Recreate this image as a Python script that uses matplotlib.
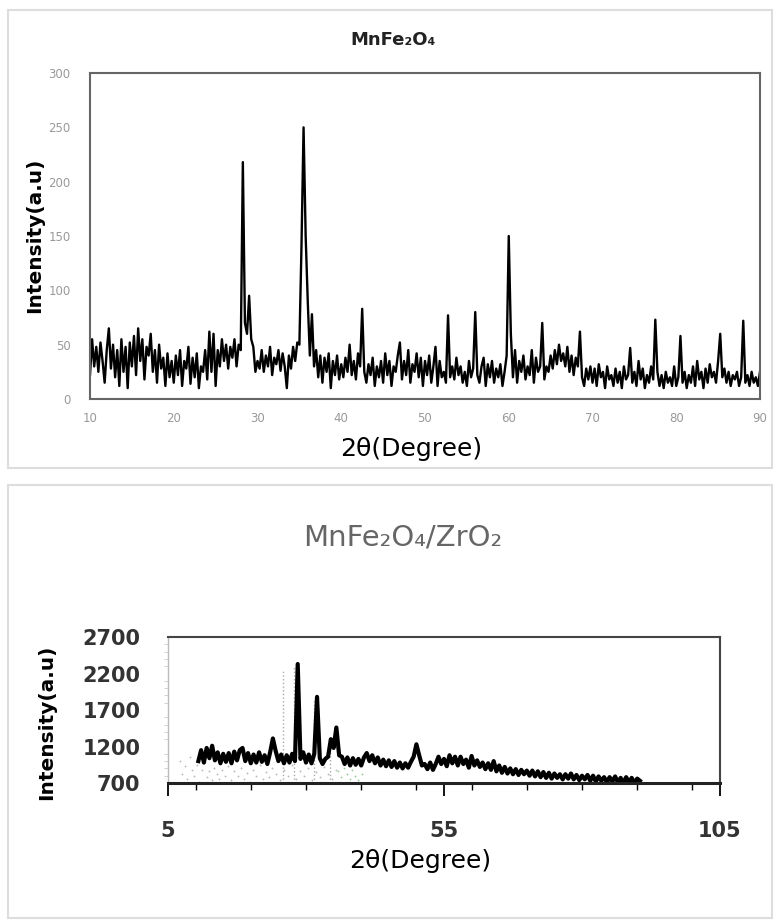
import numpy as np
import matplotlib.pyplot as plt
from matplotlib.patches import Rectangle
from matplotlib.ticker import MultipleLocator

# --- MnFe2O4 pattern, 2theta 10..90 step 0.25 ---
mn_start, mn_step = 10.0, 0.25
mn_intensity = [
    22, 55, 30, 48, 25, 52, 35, 15, 45, 65, 28, 50, 20, 45, 12, 55, 25, 48, 10, 52,
    30, 58, 22, 65, 35, 55, 18, 48, 40, 60, 25, 45, 15, 50, 28, 38, 12, 42, 20, 35,
    15, 40, 22, 45, 12, 35, 28, 48, 14, 38, 20, 42, 10, 30, 25, 45, 18, 62, 25, 60,
    12, 45, 30, 55, 35, 50, 28, 48, 38, 55, 30, 50, 45, 218, 70, 60, 95, 55, 48, 25,
    35, 28, 45, 25, 40, 30, 48, 22, 38, 32, 45, 26, 42, 30, 10, 40, 28, 48, 35, 52,
    50, 140, 250, 150, 90, 40, 78, 30, 45, 20, 40, 15, 38, 25, 42, 10, 35, 22, 40, 18,
    32, 20, 38, 25, 50, 22, 35, 18, 42, 30, 83, 25, 15, 32, 22, 38, 12, 30, 20, 35,
    15, 42, 22, 35, 12, 30, 25, 40, 52, 18, 35, 22, 45, 15, 32, 25, 42, 20, 38, 12,
    35, 22, 40, 15, 30, 48, 12, 35, 20, 25, 15, 77, 20, 30, 18, 38, 22, 30, 15, 25,
    12, 35, 20, 28, 80, 22, 15, 30, 38, 12, 32, 20, 35, 15, 28, 20, 32, 12, 25, 40,
    150, 60, 20, 45, 15, 35, 25, 40, 18, 30, 22, 45, 15, 38, 25, 30, 70, 18, 30, 25,
    40, 28, 45, 32, 50, 35, 42, 30, 48, 25, 40, 22, 38, 30, 62, 20, 12, 28, 18, 30,
    15, 28, 12, 32, 20, 25, 10, 30, 18, 22, 12, 28, 15, 25, 10, 30, 18, 22, 47, 15,
    25, 12, 35, 18, 28, 10, 22, 15, 30, 18, 73, 25, 12, 22, 10, 25, 15, 20, 12, 30,
    12, 20, 58, 15, 25, 10, 22, 15, 30, 12, 35, 18, 25, 10, 28, 15, 32, 20, 25, 15,
    35, 60, 20, 28, 15, 25, 12, 22, 18, 25, 12, 20, 72, 15, 22, 12, 25, 15, 20, 12,
    25,
]

# --- MnFe2O4/ZrO2 pattern, 2theta 10.5..90.5 step 0.5 ---
zr_start, zr_step = 10.5, 0.5
zr_intensity = [
    1000, 1150, 980, 1180, 1040, 1210, 1010, 1120, 970, 1100, 990, 1110, 970, 1130, 1010, 1150, 1180, 1000, 1110, 970,
    1090, 980, 1120, 990, 1080, 960, 1120, 1310, 1140, 1000, 1090, 970, 1080, 980, 1100, 1000, 2330, 1030, 1120, 980,
    1090, 970, 1100, 1880, 1040, 960, 1030, 1060, 1300, 1180, 1460, 1080, 1060, 960, 1050, 940, 1040, 950, 1030, 940,
    1050, 1110, 1000, 1080, 970, 1050, 940, 1020, 930, 1010, 920, 1000, 910, 980, 900, 970, 910, 990, 1060, 1230,
    1080, 940, 960, 890, 980, 880, 960, 1060, 960, 1030, 930, 1080, 970, 1060, 940, 1060, 960, 1020, 910, 1070,
    940, 1010, 920, 980, 890, 970, 880, 1000, 860, 940, 840, 920, 830, 900, 820, 890, 810, 880, 820, 870,
    800, 870, 790, 860, 780, 850, 770, 840, 760, 830, 770, 820, 750, 820, 760, 830, 750, 810, 740, 800,
    750, 810, 730, 800, 720, 790, 730, 780, 710, 780, 720, 790, 710, 770, 700, 780, 710, 770, 700, 760,
    730,
]

# faint reference pattern behind the ZrO2 curve
ref_x = [7.2, 7.6, 8.1, 8.5, 9.0, 9.3, 9.8, 10.2, 10.6, 11.1, 11.5, 12.0, 12.4, 12.9, 13.4, 13.9,
         14.3, 14.8, 15.4, 15.9, 16.5, 17.0, 17.6, 18.2, 18.7, 19.3, 19.9, 20.4, 21.0, 21.6,
         22.2, 22.8, 23.3, 23.9, 24.6, 25.2, 26.0, 26.7, 27.4, 28.1, 28.9, 29.6, 30.3, 31.0,
         31.8, 32.6, 33.3, 34.0, 34.8, 35.5]
ref_y = [1000, 820, 930, 760, 1050, 880, 800, 950, 720, 880, 980, 780, 860, 740, 900, 820,
         760, 880, 800, 930, 740, 860, 800, 900, 760, 840, 720, 880, 800, 940,
         760, 850, 780, 910, 820, 740, 880, 800, 950, 760, 860, 790, 900, 740,
         850, 780, 920, 820, 760, 880]
ref_line_x = [25.8, 27.9, 31.4, 34.3]
ref_line_top = [2260, 2300, 1850, 1350]
green_x = [35.8, 36.3, 36.9, 37.4, 37.9, 38.4, 38.9, 39.5, 40.1]
green_y = [860, 780, 900, 820, 760, 880, 800, 740, 820]

mn_x = mn_start + mn_step * np.arange(len(mn_intensity))
zr_x = zr_start + zr_step * np.arange(len(zr_intensity))

fig = plt.figure(figsize=(7.75, 9.22), dpi=100)
W, H = 775.0, 922.0


def fx(px):
    return px / W


def fy(py):
    return 1 - py / H


# panel frames
fig.patches.append(Rectangle((fx(8), fy(468)), fx(764), 458 / H, transform=fig.transFigure,
                             fill=False, edgecolor='#dddddd', lw=1.5))
fig.patches.append(Rectangle((fx(8), fy(918)), fx(764), 433 / H, transform=fig.transFigure,
                             fill=False, edgecolor='#dddddd', lw=1.5))

# ---------- top panel ----------
ax1 = fig.add_axes([fx(90), fy(399), fx(760 - 90), (399 - 73) / H])
ax1.plot(mn_x, mn_intensity, color='black', lw=1.7)
ax1.set_xlim(10, 90)
ax1.set_ylim(0, 300)
ax1.set_xticks(range(10, 91, 10))
ax1.set_yticks(range(0, 301, 50))
ax1.tick_params(length=0, labelsize=8.5, labelcolor='#999999')
ax1.tick_params(axis='y', pad=14)
ax1.tick_params(axis='x', pad=9)
for s in ax1.spines.values():
    s.set_color('#666666')
    s.set_linewidth(1.5)
ax1.set_ylabel('Intensity(a.u)', fontsize=14.5, fontweight='bold', va='center')
ax1.yaxis.set_label_coords((35 - 90) / 670, (399 - 235) / 326)
ax1.set_xlabel('2θ(Degree)', fontsize=18, va='center')
ax1.xaxis.set_label_coords((411 - 90) / 670, (399 - 449) / 326)
fig.text(fx(393), fy(40), 'MnFe₂O₄', ha='center', va='center', fontsize=13, fontweight='bold', color='#222222')

# ---------- bottom panel ----------
ax2 = fig.add_axes([fx(168), fy(783), fx(720 - 168), (783 - 637) / H])
ax2.vlines(ref_line_x, 700, ref_line_top, colors='#aaaaaa', linestyles=':', lw=1.0)
ax2.scatter(ref_x, ref_y, s=7, color='#b8b8b8', marker='.', linewidths=0)
ax2.scatter(green_x, green_y, s=7, color='#99cc99', marker='.', linewidths=0)
ax2.plot(zr_x, zr_intensity, color='black', lw=3.0)
ax2.set_xlim(5, 105)
ax2.set_ylim(700, 2700)
ax2.set_xticks([5, 55, 105])
ax2.xaxis.set_minor_locator(MultipleLocator(10))
ax2.set_yticks(range(700, 2701, 500))
ax2.yaxis.set_minor_locator(MultipleLocator(100))
ax2.tick_params(axis='x', which='major', length=9, width=1.3, direction='out', labelsize=15, pad=18)
ax2.tick_params(axis='x', which='minor', length=5, width=1.0, direction='out')
ax2.tick_params(axis='y', which='major', length=0, labelsize=15, pad=20)
ax2.tick_params(axis='y', which='minor', length=3, color='#cccccc', direction='out')
for lab in ax2.get_xticklabels() + ax2.get_yticklabels():
    lab.set_fontweight('bold')
    lab.set_color('#333333')
for name, s in ax2.spines.items():
    s.set_color('#444444')
    s.set_linewidth(1.5)
ax2.spines['bottom'].set_linewidth(2.2)
ax2.spines['bottom'].set_color('#222222')
ax2.spines['left'].set_color('#bbbbbb')
ax2.spines['left'].set_linewidth(1.0)
ax2.set_ylabel('Intensity(a.u)', fontsize=14.5, fontweight='bold', va='center')
ax2.yaxis.set_label_coords((47 - 168) / 552, (783 - 722) / 146)
ax2.set_xlabel('2θ(Degree)', fontsize=18, va='center')
ax2.xaxis.set_label_coords((420 - 168) / 552, (783 - 861) / 146)
fig.text(fx(403), fy(537), 'MnFe₂O₄/ZrO₂', ha='center', va='center', fontsize=21, color='#666666')

fig.savefig('out.png', dpi=100)
